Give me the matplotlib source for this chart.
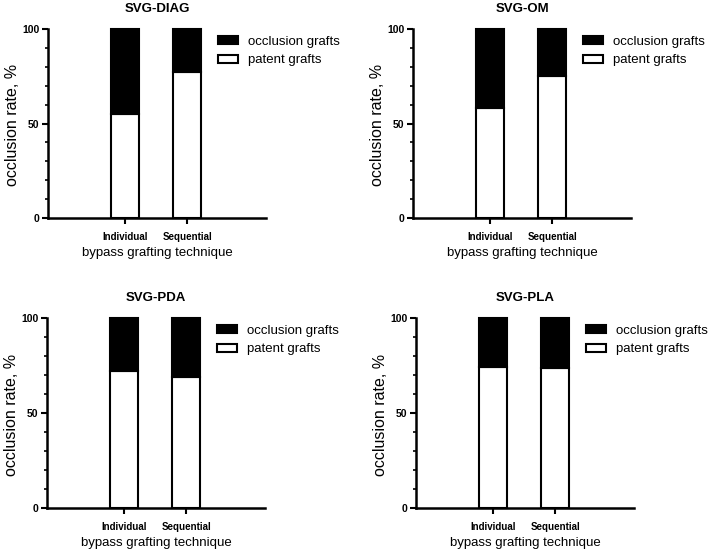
import numpy as np
import matplotlib
matplotlib.use('Agg')
import matplotlib.pyplot as plt
from matplotlib.patches import Patch
from matplotlib.ticker import MultipleLocator

plt.rcParams['font.family'] = ['Liberation Sans', 'DejaVu Sans']

categories = ['Individual', 'Sequential']
titles = ['SVG-DIAG', 'SVG-OM', 'SVG-PDA', 'SVG-PLA']
patent = [[55, 77], [58, 75], [72, 69], [74, 73.5]]
occlusion = [[45, 23], [42, 25], [28, 31], [26, 26.5]]

W, H = 708, 550
# axes boxes in pixels: left, top, right, bottom
boxes = [(48, 29, 266, 218), (413, 29, 631, 218),
         (47, 318, 265, 508), (416, 318, 634, 508)]

fig = plt.figure(figsize=(W / 100, H / 100), dpi=100)

for i in range(4):
    l, t, r, b = boxes[i]
    ax = fig.add_axes([l / W, 1 - b / H, (r - l) / W, (b - t) / H])
    x = np.arange(len(categories))
    ax.bar(x, patent[i], width=0.45, color='white', edgecolor='black',
           linewidth=1.5, clip_on=False, zorder=3)
    ax.bar(x, occlusion[i], width=0.45, bottom=patent[i], color='black',
           edgecolor='black', linewidth=1.5, clip_on=False, zorder=3)

    ax.set_xlim(-1.24, 2.27)
    ax.set_ylim(0, 100)
    ax.set_xticks(x)
    ax.set_xticklabels(categories, fontsize=7, fontweight='bold')
    ax.set_yticks([0, 50, 100])
    ax.set_yticklabels(['0', '50', '100'], fontsize=7.5, fontweight='bold')
    ax.yaxis.set_minor_locator(MultipleLocator(10))
    ax.tick_params(axis='both', which='major', length=4, width=1.5, pad=2)
    ax.tick_params(axis='y', which='minor', length=2.5, width=1.2)
    ax.tick_params(axis='x', pad=6)
    for s in ['top', 'right']:
        ax.spines[s].set_visible(False)
    for s in ['left', 'bottom']:
        ax.spines[s].set_linewidth(1.8)

    ax.set_title(titles[i], fontsize=9.5, fontweight='bold', pad=12)
    ax.set_ylabel('occlusion rate, %', fontsize=11.5)
    ax.yaxis.set_label_coords(-0.128, 0.49)
    ax.set_xlabel('bypass grafting technique', fontsize=9.5, labelpad=4)

    handles = [Patch(facecolor='black', edgecolor='black', linewidth=1.5, label='occlusion grafts'),
               Patch(facecolor='white', edgecolor='black', linewidth=1.5, label='patent grafts')]
    ax.legend(handles=handles, loc='upper left', bbox_to_anchor=(0.78, 0.965),
              frameon=False, fontsize=9.5, borderpad=0, borderaxespad=0,
              handlelength=1.5, handleheight=0.55, handletextpad=0.8,
              labelspacing=0.5)

fig.savefig('out.png', dpi=100)
